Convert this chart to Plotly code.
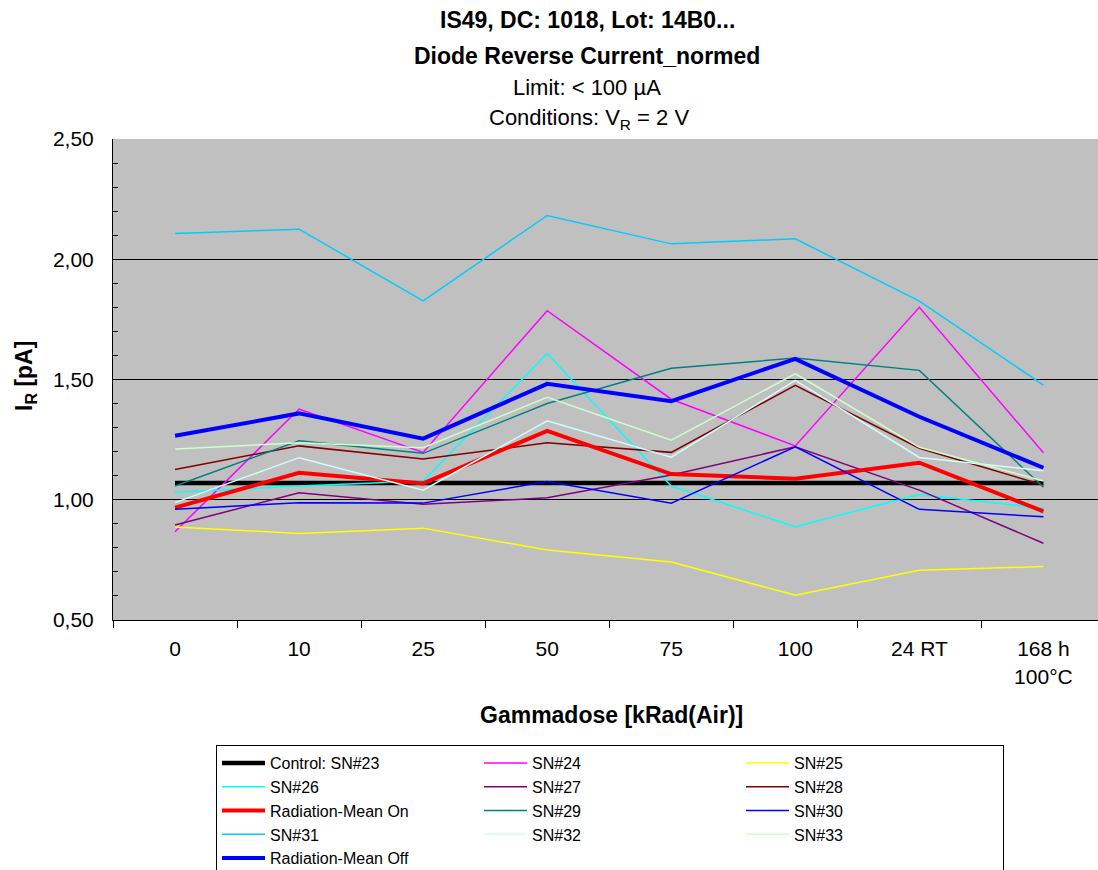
import plotly.graph_objects as go

# Dose steps on the x axis
doses = ["0", "10", "25", "50", "75", "100", "24 RT", "168 h<br>100°C"]

# Normalised reverse current I_R [pA] per device
control_sn23 = [1.07, 1.07, 1.07, 1.07, 1.07, 1.07, 1.07, 1.07]
sn24 = [0.867, 1.377, 1.197, 1.786, 1.418, 1.224, 1.800, 1.195]
sn25 = [0.887, 0.860, 0.882, 0.791, 0.741, 0.603, 0.707, 0.722]
sn26 = [1.031, 1.057, 1.078, 1.608, 1.057, 0.888, 1.022, 0.964]
sn27 = [0.895, 1.029, 0.981, 1.008, 1.103, 1.220, 1.040, 0.819]
sn28 = [1.126, 1.224, 1.169, 1.237, 1.197, 1.476, 1.214, 1.061]
mean_on = [0.967, 1.112, 1.068, 1.286, 1.107, 1.087, 1.154, 0.952]
sn29 = [1.057, 1.245, 1.193, 1.400, 1.547, 1.589, 1.538, 1.052]
sn30 = [0.960, 0.988, 0.986, 1.076, 0.986, 1.220, 0.960, 0.929]
sn31 = [2.107, 2.125, 1.827, 2.182, 2.064, 2.085, 1.826, 1.477]
sn32 = [0.988, 1.175, 1.040, 1.328, 1.177, 1.496, 1.176, 1.121]
sn33 = [1.211, 1.237, 1.216, 1.426, 1.248, 1.524, 1.218, 1.078]
mean_off = [1.266, 1.359, 1.254, 1.482, 1.410, 1.586, 1.345, 1.133]

y_ticks = [0.5, 1.0, 1.5, 2.0, 2.5]

series = [
    ("Control: SN#23", control_sn23, "#000000", 4.5),
    ("SN#24", sn24, "#FF00FF", 1.5),
    ("SN#25", sn25, "#FFFF00", 1.5),
    ("SN#26", sn26, "#00FFFF", 1.5),
    ("SN#27", sn27, "#800080", 1.5),
    ("SN#28", sn28, "#800000", 1.5),
    ("Radiation-Mean On", mean_on, "#FF0000", 4),
    ("SN#29", sn29, "#008080", 1.5),
    ("SN#30", sn30, "#0000FF", 1.5),
    ("SN#31", sn31, "#00CCFF", 1.5),
    ("SN#32", sn32, "#CCFFFF", 1.5),
    ("SN#33", sn33, "#CCFFCC", 1.5),
    ("Radiation-Mean Off", mean_off, "#0000FF", 4),
]

FONT = "Liberation Sans, Arial, sans-serif"

fig = go.Figure()
for name, vals, color, width in series:
    fig.add_trace(go.Scatter(
        x=doses, y=vals, name=name, mode="lines",
        line=dict(color=color, width=width),
    ))

# Plot-area geometry in pixels (used to place free text)
L, R, T, B = 113, 1098, 139, 620


def px(x):
    return (x - L) / (R - L)


def py(y):
    return (B - y) / (B - T)


def text(s, x, y, size, angle=0):
    fig.add_annotation(
        text=s, x=px(x), y=py(y), xref="paper", yref="paper",
        xanchor="center", yanchor="middle", showarrow=False,
        textangle=angle, font=dict(family=FONT, size=size, color="#000000"),
    )


text("<b>IS49, DC: 1018, Lot: 14B0...</b>", 587, 20, 23)
text("<b>Diode Reverse Current_normed</b>", 587, 56, 23)
text("Limit: &lt; 100 µA", 587, 87, 22)
text("Conditions: V<sub>R</sub> = 2 V", 589, 119, 22)
text("<b>I<sub>R</sub> [pA]</b>", 25, 376, 23, angle=-90)
text("<b>Gammadose [kRad(Air)]</b>", 611, 715, 23)

fig.update_layout(
    width=1098, height=870,
    margin=dict(l=L, r=1098 - R, t=T, b=870 - B, pad=0, autoexpand=False),
    paper_bgcolor="#FFFFFF",
    plot_bgcolor="#C0C0C0",
    separators=",.",
    font=dict(family=FONT, size=21, color="#000000"),
    showlegend=True,
    legend=dict(
        orientation="h",
        x=px(216), y=py(745), xanchor="left", yanchor="top",
        bgcolor="#FFFFFF", bordercolor="#000000", borderwidth=1,
        font=dict(family=FONT, size=16, color="#000000"),
        itemwidth=43,
        entrywidth=204, entrywidthmode="pixels",
        traceorder="normal",
    ),
    xaxis=dict(
        type="category",
        range=[-0.5, 7.44],
        showline=True, linecolor="#000000", linewidth=1,
        ticks="outside", ticklen=7, tickcolor="#000000",
        tickson="boundaries",
        showgrid=False, zeroline=False,
        tickfont=dict(family=FONT, size=21),
        ticklabelstandoff=10,
    ),
    yaxis=dict(
        range=[0.5, 2.5],
        tickvals=y_ticks, tickformat=".2f",
        showline=True, linecolor="#000000", linewidth=1,
        ticks="inside", ticklen=5, tickcolor="#000000",
        minor=dict(dtick=0.1, ticks="inside", ticklen=5, tickcolor="#000000", showgrid=False),
        showgrid=True, gridcolor="#000000", gridwidth=1,
        zeroline=False,
        tickfont=dict(family=FONT, size=21),
        ticklabelstandoff=14,
    ),
)

fig.write_html("out.html")
